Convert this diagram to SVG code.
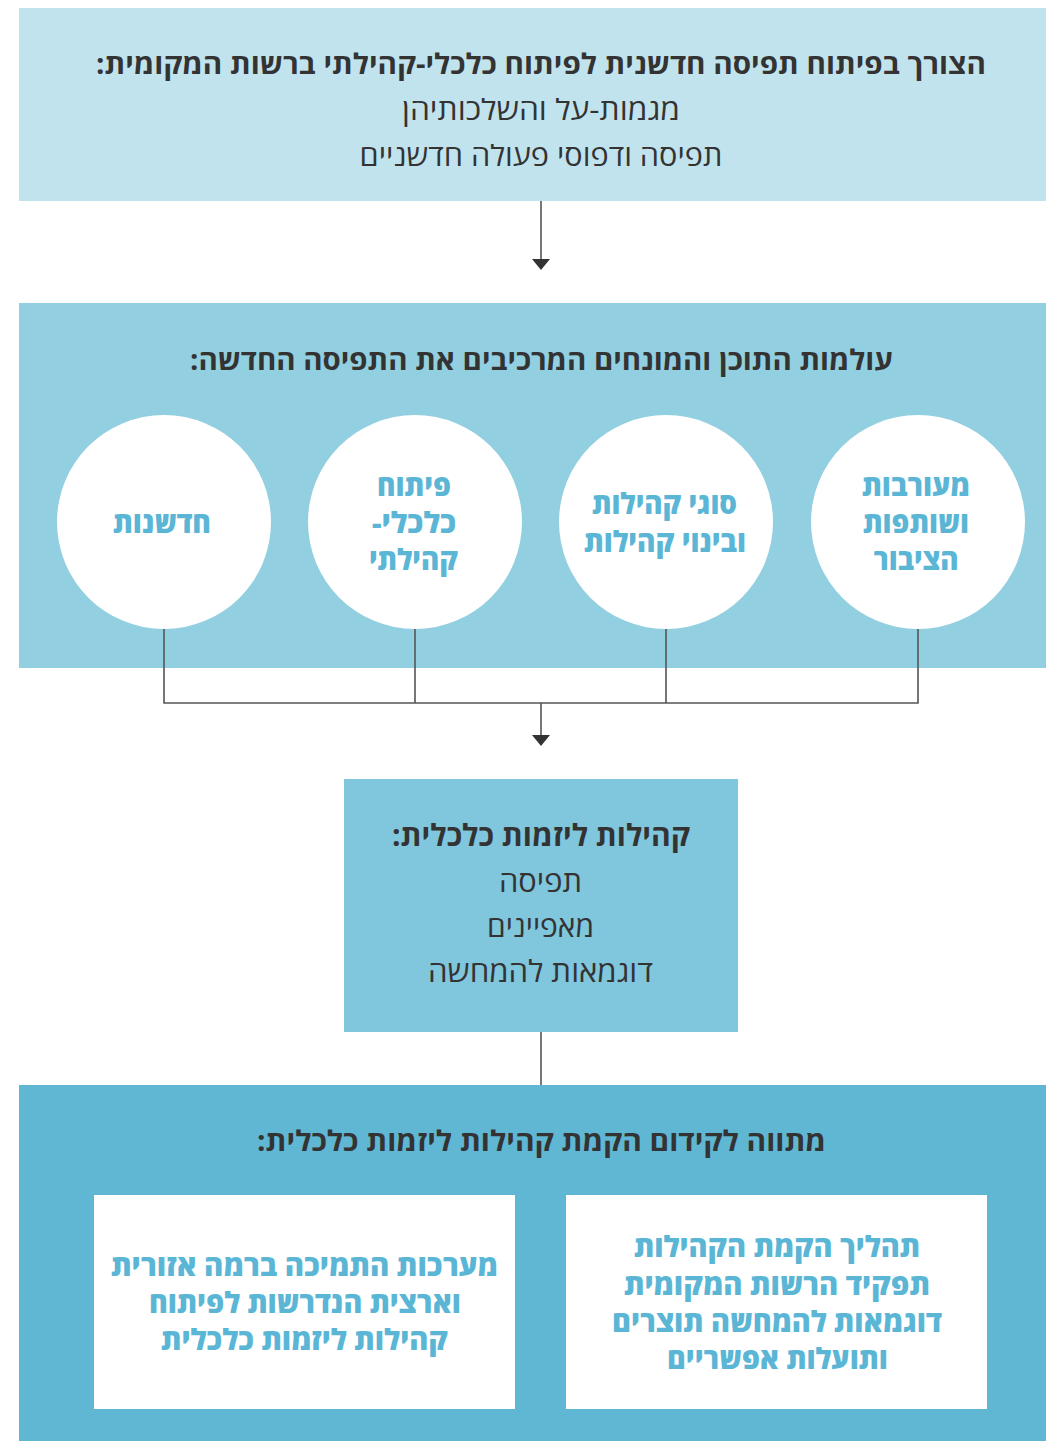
<svg xmlns="http://www.w3.org/2000/svg" width="1046" height="1441" viewBox="0 0 1046 1441">
<style>
text { direction: rtl; text-anchor: middle; }
.h { font-family: "Open Sans", "Liberation Sans", sans-serif; font-weight: 700; font-size: 28px; fill: #333333; }
.r { font-family: "Open Sans", "Liberation Sans", sans-serif; font-weight: 400; font-size: 29px; fill: #333333; }
.c { font-family: "Open Sans", "Liberation Sans", sans-serif; font-weight: 800; font-size: 29px; fill: #5BB6D6; }
.conn { stroke: #555555; stroke-width: 1.6; fill: none; }
</style>
<defs>
<marker id="arr" markerUnits="userSpaceOnUse" markerWidth="12" markerHeight="20" viewBox="0 -10 12 20" refX="0" refY="0" orient="auto">
<path d="M0,-9 L11,0 L0,9 z" fill="#333333"/>
</marker>
</defs>
<rect width="1046" height="1441" fill="#ffffff"/>

<g id="top">
<rect x="19" y="8" width="1027" height="193" fill="#C1E3ED"/>
<text class="h" x="541" y="74" textLength="890" lengthAdjust="spacingAndGlyphs">הצורך בפיתוח תפיסה חדשנית לפיתוח כלכלי-קהילתי ברשות המקומית:</text>
<text class="r" x="541" y="120" textLength="278" lengthAdjust="spacingAndGlyphs">מגמות-על והשלכותיהן</text>
<text class="r" x="541" y="166" textLength="363" lengthAdjust="spacingAndGlyphs">תפיסה ודפוסי פעולה חדשניים</text>
</g>

<g id="worlds">
<rect x="19" y="303" width="1027" height="365" fill="#92CFE0"/>
<text class="h" x="541.5" y="370" textLength="703" lengthAdjust="spacingAndGlyphs">עולמות התוכן והמונחים המרכיבים את התפיסה החדשה:</text>
</g>

<g id="circle1">
<circle cx="918" cy="522" r="107" fill="#ffffff"/>
<text class="c" x="916" y="496" textLength="108" lengthAdjust="spacingAndGlyphs">מעורבות</text>
<text class="c" x="916" y="533" textLength="106" lengthAdjust="spacingAndGlyphs">ושותפות</text>
<text class="c" x="916" y="570" textLength="85" lengthAdjust="spacingAndGlyphs">הציבור</text>
</g>
<g id="circle2">
<circle cx="666" cy="522" r="107" fill="#ffffff"/>
<text class="c" x="664.5" y="514" textLength="145" lengthAdjust="spacingAndGlyphs">סוגי קהילות</text>
<text class="c" x="665" y="552" textLength="162" lengthAdjust="spacingAndGlyphs">ובינוי קהילות</text>
</g>
<g id="circle3">
<circle cx="415" cy="522" r="107" fill="#ffffff"/>
<text class="c" x="414" y="496" textLength="74" lengthAdjust="spacingAndGlyphs">פיתוח</text>
<text class="c" x="414" y="533" textLength="84" lengthAdjust="spacingAndGlyphs">כלכלי-</text>
<text class="c" x="413.5" y="570" textLength="89" lengthAdjust="spacingAndGlyphs">קהילתי</text>
</g>
<g id="circle4">
<circle cx="164" cy="522" r="107" fill="#ffffff"/>
<text class="c" x="162" y="533" textLength="98" lengthAdjust="spacingAndGlyphs">חדשנות</text>
</g>

<g id="communities">
<rect x="344" y="779" width="394" height="253" fill="#80C6DC"/>
<text class="h" x="541" y="846" style="font-size:30px" textLength="298" lengthAdjust="spacingAndGlyphs">קהילות ליזמות כלכלית:</text>
<text class="r" x="540.5" y="892" style="font-size:30px" textLength="83" lengthAdjust="spacingAndGlyphs">תפיסה</text>
<text class="r" x="540.5" y="937" style="font-size:30px" textLength="107" lengthAdjust="spacingAndGlyphs">מאפיינים</text>
<text class="r" x="540.5" y="982" style="font-size:30px" textLength="225" lengthAdjust="spacingAndGlyphs">דוגמאות להמחשה</text>
</g>

<g id="outline">
<rect x="19" y="1085" width="1027" height="356" fill="#60B7D4"/>
<text class="h" x="541.5" y="1151" textLength="569" lengthAdjust="spacingAndGlyphs">מתווה לקידום הקמת קהילות ליזמות כלכלית:</text>
</g>
<g id="box-right">
<rect x="566" y="1195" width="421" height="214" fill="#ffffff"/>
<text class="c" x="777" y="1257" textLength="286" lengthAdjust="spacingAndGlyphs">תהליך הקמת הקהילות</text>
<text class="c" x="777" y="1295" textLength="306" lengthAdjust="spacingAndGlyphs">תפקיד הרשות המקומית</text>
<text class="c" x="777" y="1332" textLength="330" lengthAdjust="spacingAndGlyphs">דוגמאות להמחשה תוצרים</text>
<text class="c" x="777.5" y="1369" textLength="221" lengthAdjust="spacingAndGlyphs">ותועלות אפשריים</text>
</g>
<g id="box-left">
<rect x="94" y="1195" width="421" height="214" fill="#ffffff"/>
<text class="c" x="304.5" y="1276" textLength="387" lengthAdjust="spacingAndGlyphs">מערכות התמיכה ברמה אזורית</text>
<text class="c" x="305" y="1313" textLength="312" lengthAdjust="spacingAndGlyphs">וארצית הנדרשות לפיתוח</text>
<text class="c" x="304.5" y="1350" textLength="287" lengthAdjust="spacingAndGlyphs">קהילות ליזמות כלכלית</text>
</g>

<g id="connectors">
<path class="conn" d="M541,201 V259" marker-end="url(#arr)"/>
<path class="conn" d="M164,629 V703 H918 V629 M415,629 V703 M666,629 V703"/>
<path class="conn" d="M541,703 V735" marker-end="url(#arr)"/>
<path class="conn" d="M541,1032 V1085"/>
</g>
</svg>
